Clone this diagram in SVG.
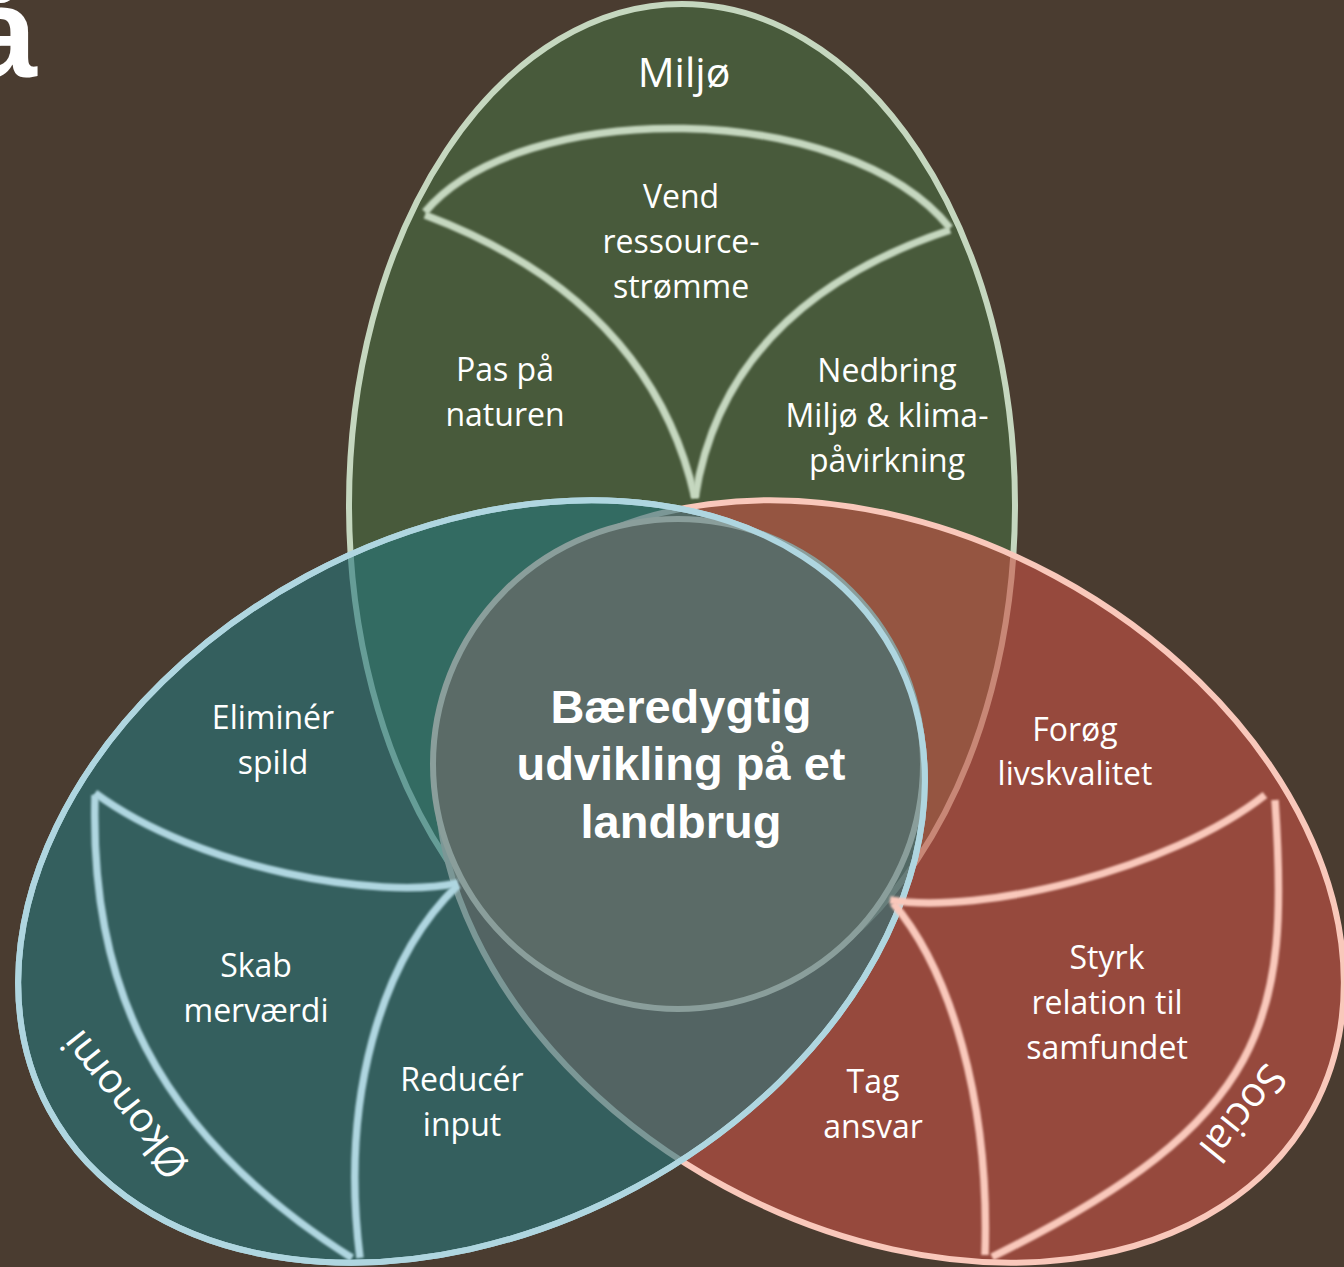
<svg xmlns="http://www.w3.org/2000/svg" width="1344" height="1267" viewBox="0 0 1344 1267">
<style>
.lbl{font-family:"Open Sans","Noto Sans",sans-serif;font-size:32px;fill:#ffffff;text-anchor:middle}
.big{font-family:"Open Sans","Noto Sans",sans-serif;font-size:41px;fill:#ffffff;text-anchor:middle}
.ctr{font-family:"Liberation Sans",Arial,sans-serif;font-weight:bold;font-size:47px;fill:#ffffff;text-anchor:middle}
.corner{font-family:"Liberation Sans",Arial,sans-serif;font-weight:bold;font-size:128px;fill:#ffffff}
.gl{fill:none;stroke:#c5d7bf;stroke-width:7.5;filter:url(#soft)}
.tl{fill:none;stroke:#afd6e0;stroke-width:7.5;filter:url(#soft)}
.rl{fill:none;stroke:#f9c8bb;stroke-width:7.5;filter:url(#soft)}
</style>
<defs>
<filter id="soft" x="-5%" y="-5%" width="110%" height="110%"><feGaussianBlur stdDeviation="0.8"/></filter>
</defs>
<rect x="0" y="0" width="1344" height="1267" fill="#4a3c30"/>
<text class="corner" x="-34" y="77">å</text>

<g id="miljo">
<ellipse cx="682" cy="505" rx="333" ry="501" fill="#485a3b" stroke="#c5d7bf" stroke-width="6"/>
<path class="gl" d="M425,212 C520,98 845,98 950,228"/>
<path class="gl" d="M425,215 Q650,300 695,498"/>
<path class="gl" d="M950,230 Q725,305 695,498"/>
<text class="big" x="684" y="87">Miljø</text>
<text class="lbl" x="681" y="208">Vend</text>
<text class="lbl" x="681" y="253">ressource-</text>
<text class="lbl" x="681" y="298">strømme</text>
<text class="lbl" x="505" y="381">Pas på</text>
<text class="lbl" x="505" y="426">naturen</text>
<text class="lbl" x="887" y="382">Nedbring</text>
<text class="lbl" x="887" y="427">Miljø &amp; klima-</text>
<text class="lbl" x="887" y="472">påvirkning</text>
</g>

<g id="social">
<ellipse cx="890.5" cy="881.5" rx="480" ry="347" transform="rotate(28.4 890.5 881.5)" fill="rgb(202,82,70)" fill-opacity="0.6" stroke="#f9c8bb" stroke-width="6"/>
</g>

<g id="okonomi">
<ellipse cx="471.5" cy="881.5" rx="480" ry="347" transform="rotate(-28.4 471.5 881.5)" fill="rgb(39,118,125)" fill-opacity="0.6" stroke="#afd6e0" stroke-width="6"/>
</g>

<g id="center">
<circle cx="678" cy="764" r="245" fill="#5b6b67" stroke="#8a9e9b" stroke-width="6"/>
</g>

<g id="okonomi-outline">
<ellipse cx="471.5" cy="881.5" rx="480" ry="347" transform="rotate(-28.4 471.5 881.5)" fill="none" stroke="#afd6e0" stroke-width="6"/>
</g>

<g id="okonomi-inner">
<path class="tl" d="M95,793 C200,870 380,900 458,883"/>
<path class="tl" d="M95,795 C90,980 150,1130 352,1258"/>
<path class="tl" d="M458,885 C380,960 340,1100 360,1258"/>
<text class="lbl" x="273" y="729">Eliminér</text>
<text class="lbl" x="273" y="774">spild</text>
<text class="lbl" x="256" y="977">Skab</text>
<text class="lbl" x="256" y="1022">merværdi</text>
<text class="lbl" x="462" y="1091">Reducér</text>
<text class="lbl" x="462" y="1136">input</text>
<text class="big" x="136" y="1096" transform="rotate(-128.5 136 1096)">Økonomi</text>
</g>

<g id="social-inner">
<path class="rl" d="M1265,795 C1170,870 980,915 890,900"/>
<path class="rl" d="M1275,800 C1290,1020 1270,1120 992,1257"/>
<path class="rl" d="M893,903 C950,970 990,1100 985,1255"/>
<text class="lbl" x="1075" y="741">Forøg</text>
<text class="lbl" x="1075" y="785">livskvalitet</text>
<text class="lbl" x="1107" y="969">Styrk</text>
<text class="lbl" x="1107" y="1014">relation til</text>
<text class="lbl" x="1107" y="1059">samfundet</text>
<text class="lbl" x="873" y="1093">Tag</text>
<text class="lbl" x="873" y="1138">ansvar</text>
<text class="big" x="1232" y="1104" transform="rotate(129 1232 1104)">Social</text>
</g>

<g id="center-label">
<text class="ctr" x="681" y="723">Bæredygtig</text>
<text class="ctr" x="681" y="780">udvikling på et</text>
<text class="ctr" x="681" y="838">landbrug</text>
</g>
</svg>
